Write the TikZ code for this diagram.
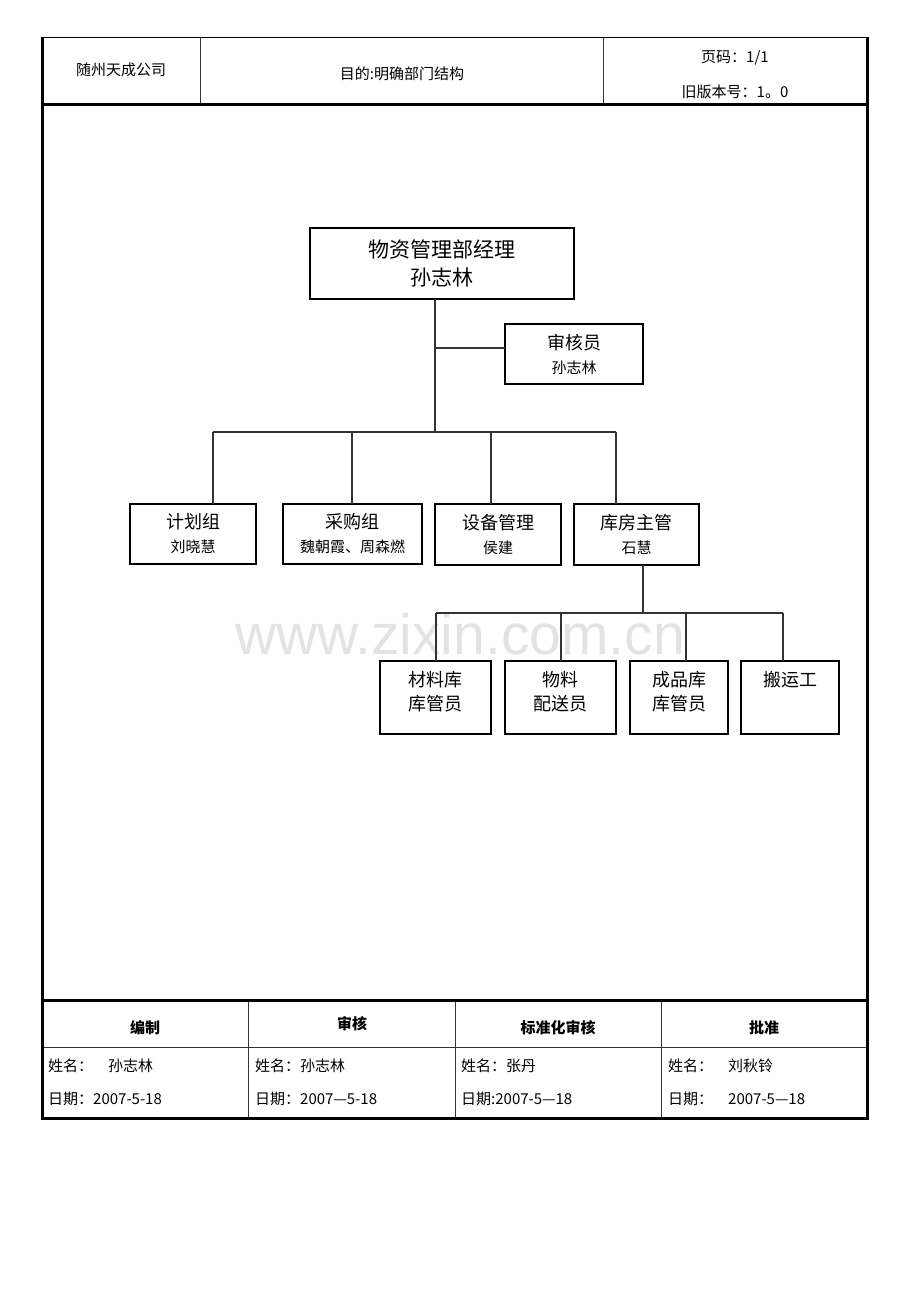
\documentclass[tikz,border=0pt]{standalone}
\usepackage{fontspec}
\newfontfamily\cjk{Noto Sans CJK SC}
\newfontfamily\markfont{Liberation Sans}
\colorlet{myline}{black!80}
\colorlet{mymark}{black!11}
\newcommand{\fs}[2]{\fontsize{#1}{#2}\selectfont}
\newcommand{\subname}[1]{{\fs{15}{24}#1}}

\begin{document}
\begin{tikzpicture}[x=1pt,y=-1pt,
  frame/.style={line width=3pt},
  rule/.style={line width=0.8pt, myline},
  link/.style={line width=1.2pt, myline},
  post/.style={draw, line width=1.1pt, inner sep=0pt, outer sep=0pt, align=center, font=\cjk\fs{18}{24}},
  staff/.style={post, minimum height=73, text depth=14pt},
  cell/.style={inner sep=0pt, font=\cjk\fs{15}{18}},
  head/.style={cell, font=\cjk\bfseries\fs{15}{18}}]
\useasboundingbox (0,0) rectangle (920,1302);
% watermark
\node[font=\markfont\fs{57}{60}, text=mymark] (mark) at (460,634) {www.zixin.com.cn};
% outer frame
\draw[line width=1pt] (41,37) -- (869,37);
\draw[frame] (42.5,37) -- (42.5,1120);
\draw[frame] (867.5,37) -- (867.5,1120);
\draw[frame] (41,104.5) -- (869,104.5);
\draw[frame] (41,1000.5) -- (869,1000.5);
\draw[frame] (41,1118.5) -- (869,1118.5);
% header
\draw[rule] (200,37) -- (200,103);
\draw[rule] (603,37) -- (603,103);
\node[cell] (company) at (121,70) {随州天成公司};
\node[cell] (aim) at (402,74) {目的:明确部门结构};
\node[cell] (page) at (735,58) {页码：1/1};
\node[cell] (version) at (735,92) {旧版本号：1。0};
% footer
\draw[rule] (248,1002) -- (248,1117);
\draw[rule] (455,1002) -- (455,1117);
\draw[rule] (661,1002) -- (661,1117);
\draw[rule] (44,1047) -- (866,1047);
\node[head] (make) at (145,1028) {编制};
\node[head] (check) at (352,1024) {审核};
\node[head] (norm) at (558,1028) {标准化审核};
\node[head] (grant) at (764,1028) {批准};
\node[cell, anchor=west] (name1) at (48,1066) {姓名：　孙志林};
\node[cell, anchor=west] (name2) at (255,1066) {姓名：孙志林};
\node[cell, anchor=west] (name3) at (461,1066) {姓名：张丹};
\node[cell, anchor=west] (name4) at (668,1066) {姓名：　刘秋铃};
\node[cell, anchor=west] (date1) at (48,1099) {日期：2007-5-18};
\node[cell, anchor=west] (date2) at (255,1099) {日期：2007—5-18};
\node[cell, anchor=west] (date3) at (461,1099) {日期:2007-5—18};
\node[cell, anchor=west] (date4) at (668,1099) {日期：　2007-5—18};
% chart
\node[post, minimum width=264, minimum height=71, font=\cjk\fs{21}{28}] (boss) at (442,263.5) {物资管理部经理\\孙志林};
\node[post, minimum width=138, minimum height=60] (audit) at (574,354) {审核员\\\subname{孙志林}};
\node[post, minimum width=126, minimum height=60] (plan) at (193,534) {计划组\\\subname{刘晓慧}};
\node[post, minimum width=139, minimum height=60] (buy) at (352.5,534) {采购组\\\subname{魏朝霞、周森燃}};
\node[post, minimum width=126, minimum height=61] (device) at (498,534.5) {设备管理\\\subname{侯建}};
\node[post, minimum width=125, minimum height=61] (store) at (636.5,534.5) {库房主管\\\subname{石慧}};
\node[staff, minimum width=111] (material) at (435.5,697.5) {材料库\\库管员};
\node[staff, minimum width=111] (deliver) at (560.5,697.5) {物料\\配送员};
\node[staff, minimum width=98] (product) at (679,697.5) {成品库\\库管员};
\node[staff, minimum width=98] (porter) at (790,697.5) {搬运工\\\strut};
% connectors
\coordinate (trunk) at (435,432);
\coordinate (side) at (435,348);
\coordinate (bus1) at (213,432);
\coordinate (bus2) at (352,432);
\coordinate (bus3) at (491,432);
\coordinate (bus4) at (616,432);
\draw[link] (trunk |- boss.south) -- (trunk);
\draw[link] (side) -- (side -| audit.west);
\draw[link] (bus1) -- (bus4);
\draw[link] (bus1) -- (bus1 |- plan.north);
\draw[link] (bus2) -- (bus2 |- buy.north);
\draw[link] (bus3) -- (bus3 |- device.north);
\draw[link] (bus4) -- (bus4 |- store.north);
\coordinate (drop) at (643,613);
\coordinate (low1) at (436,613);
\coordinate (low2) at (561,613);
\coordinate (low3) at (686,613);
\coordinate (low4) at (783,613);
\draw[link] (drop |- store.south) -- (drop);
\draw[link] (low1) -- (low4);
\draw[link] (low1) -- (low1 |- material.north);
\draw[link] (low2) -- (low2 |- deliver.north);
\draw[link] (low3) -- (low3 |- product.north);
\draw[link] (low4) -- (low4 |- porter.north);
\end{tikzpicture}
\end{document}
